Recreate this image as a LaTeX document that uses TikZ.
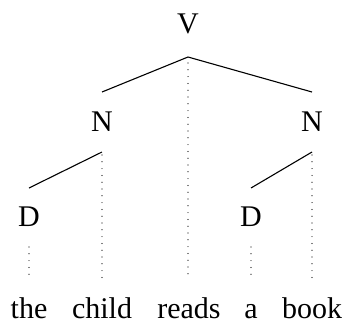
\documentclass[tikz,border=0pt]{standalone}
\usepackage{fontspec}
\setmainfont{Liberation Serif}
\begin{document}
\begin{tikzpicture}[x=1pt,y=-1pt,
  lbl/.style={inner sep=0pt,anchor=base,font=\fontsize{30}{36}\selectfont},
  branch/.style={line width=1.1pt},
  proj/.style={line width=1.2pt,line cap=round,dash pattern=on 0pt off 6.8pt}]
\useasboundingbox (0,0) rectangle (344,322);
% labels
\node[lbl] (V) at (188,33) {V};
\node[lbl] (N1) at (102,131) {N};
\node[lbl] (N2) at (312,131) {N};
\node[lbl] (D1) at (29,226) {D};
\node[lbl] (D2) at (251,226) {D};
\node[lbl] (w1) at (29,318) {the};
\node[lbl] (w2) at (102,318) {child};
\node[lbl] (w3) at (189,318) {reads};
\node[lbl] (w4) at (251,318) {a};
\node[lbl] (w5) at (312,318) {book};
% branch points
\coordinate (vb) at (188,57);
\coordinate (n1t) at (102,92);
\coordinate (n2t) at (312,92);
\coordinate (n1b) at (102,152);
\coordinate (n2b) at (312,152);
\coordinate (d1t) at (29,188);
\coordinate (d2t) at (251,188);
\coordinate (d1b) at (29,247);
\coordinate (d2b) at (251,247);
\coordinate (e1) at (29,278);
\coordinate (e2) at (102,278);
\coordinate (e3) at (188,279);
\coordinate (e4) at (251,278);
\coordinate (e5) at (312,278);
% solid branches
\draw[branch] (n1t) -- (vb) -- (n2t);
\draw[branch] (n1b) -- (d1t);
\draw[branch] (n2b) -- (d2t);
% dotted projections
\draw[proj] (vb) ++(0,6) -- (e3);
\draw[proj] (n1b) ++(0,3) -- (e2);
\draw[proj] (n2b) ++(0,3) -- (e5);
\draw[proj] (d1b) -- (e1);
\draw[proj] (d2b) -- (e4);
\end{tikzpicture}
\end{document}
